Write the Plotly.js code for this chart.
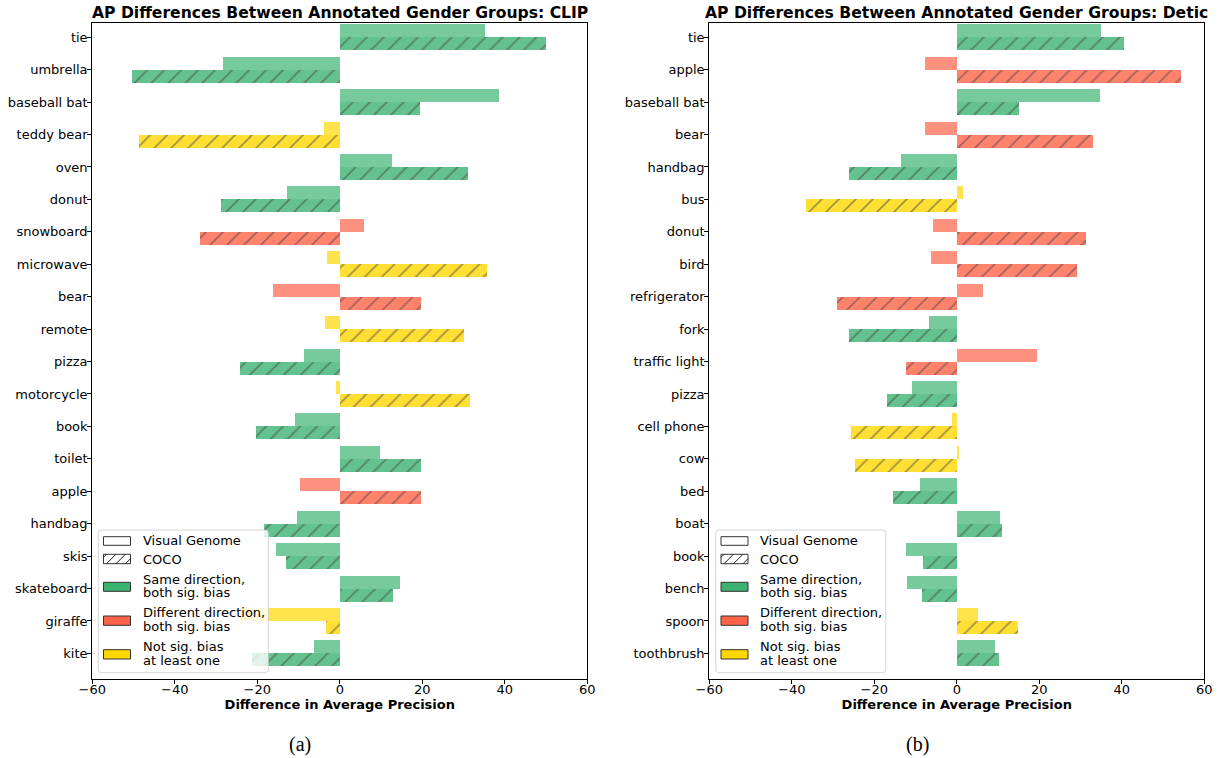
<!DOCTYPE html>
<html>
<head>
<meta charset="utf-8">
<script src="https://cdn.plot.ly/plotly-3.0.1.min.js"></script>
<style>html,body{margin:0;padding:0;background:#fff;}#chart{width:1222px;height:758px;}</style>
</head>
<body>
<div id="chart"></div>
<script>
// ---------------- data ----------------
const clipCategories = ['tie','umbrella','baseball bat','teddy bear','oven','donut','snowboard','microwave','bear','remote','pizza','motorcycle','book','toilet','apple','handbag','skis','skateboard','giraffe','kite'];
const clipVG   = [35.1, -28.3, 38.7, -3.9, 12.6, -12.8, 5.8, -3.1, -16.2, -3.6, -8.7, -1.0, -10.9, 9.7, -9.7, -10.4, -15.5, 14.5, -24.2, -6.3];
const clipCOCO = [50.1, -50.3, 19.4, -48.6, 31.0, -28.8, -33.9, 35.8, 19.6, 30.0, -24.2, 31.5, -20.3, 19.6, 19.6, -18.4, -13.1, 12.8, -3.4, -21.3];
const clipGroup = ['same','same','same','notsig','same','same','diff','notsig','diff','notsig','same','notsig','same','same','diff','same','same','same','notsig','same'];

const deticCategories = ['tie','apple','baseball bat','bear','handbag','bus','donut','bird','refrigerator','fork','traffic light','pizza','cell phone','cow','bed','boat','book','bench','spoon','toothbrush'];
const deticVG   = [35.0, -7.7, 34.8, -7.7, -13.5, 1.5, -5.8, -6.3, 6.3, -6.8, 19.4, -10.9, -1.2, 0.5, -9.0, 10.5, -12.3, -12.1, 5.1, 9.2];
const deticCOCO = [40.6, 54.4, 15.1, 33.1, -26.1, -36.6, 31.2, 29.2, -29.0, -26.1, -12.3, -16.9, -25.7, -24.7, -15.5, 11.0, -8.2, -8.5, 14.8, 10.2];
const deticGroup = ['same','diff','same','diff','same','notsig','diff','diff','diff','same','diff','same','notsig','notsig','same','same','same','same','notsig','same'];

const xTickValues = [-60, -40, -20, 0, 20, 40, 60];
const xTickLabels = ['\u221260', '\u221240', '\u221220', '0', '20', '40', '60'];

const panelTitles = ['AP Differences Between Annotated Gender Groups: CLIP', 'AP Differences Between Annotated Gender Groups: Detic'];
const xAxisTitle = 'Difference in Average Precision';
const captions = ['(a)', '(b)'];
const legendLabels = {
  vg: ['Visual Genome'],
  coco: ['COCO'],
  same: ['Same direction,', 'both sig. bias'],
  diff: ['Different direction,', 'both sig. bias'],
  notsig: ['Not sig. bias', 'at least one']
};

// ---------------- styles ----------------
const W = 1222, H = 758;
const groupRGB = { same: [60,179,113], diff: [255,99,71], notsig: [255,215,0] };
const rgba = (g, a) => 'rgba(' + groupRGB[g].join(',') + ',' + a + ')';
const px = x => x / W;
const py = y => 1 - y / H;
const FONT = 'DejaVu Sans, Verdana, sans-serif';

function barTraces(cats, vg, coco, grp, xa, ya) {
  const vgCol = grp.map(g => rgba(g, 0.7));
  const cocoCol = grp.map(g => rgba(g, 0.8));
  return [
    { type: 'bar', orientation: 'h', y: cats, x: vg, xaxis: xa, yaxis: ya,
      width: 0.4, offset: -0.4, marker: { color: vgCol, line: { width: 0 } },
      showlegend: false, hoverinfo: 'x+y', name: 'Visual Genome' },
    { type: 'bar', orientation: 'h', y: cats, x: coco, xaxis: xa, yaxis: ya,
      width: 0.4, offset: 0, marker: { color: cocoCol, line: { width: 0 },
        pattern: { shape: '/', fillmode: 'overlay', bgcolor: cocoCol, fgcolor: '#000', size: 12, solidity: 0.14 } },
      showlegend: false, hoverinfo: 'x+y', name: 'COCO' }
  ];
}

const data = [
  ...barTraces(clipCategories, clipVG, clipCOCO, clipGroup, 'x', 'y'),
  ...barTraces(deticCategories, deticVG, deticCOCO, deticGroup, 'x2', 'y2')
];

const yDomain = [py(679), py(23.3)];
const yRange = [19.79, -0.43];
const xDomains = [[px(92.3), px(587.3)], [px(709.3), px(1204.3)]];

function xAxis(dom, anchor) {
  return {
    domain: dom, anchor: anchor, range: [-60, 60], tickmode: 'array',
    tickvals: xTickValues, ticktext: xTickLabels,
    ticks: 'outside', ticklen: 4, tickwidth: 1, tickcolor: '#000',
    ticklabelstandoff: -6,
    showline: true, linecolor: '#000', linewidth: 1.1, mirror: true,
    showgrid: false, zeroline: false,
    tickfont: { family: FONT, size: 13, color: '#000' },
    title: { text: xAxisTitle, font: { family: FONT, size: 13, color: '#000', weight: 'bold' }, standoff: 0 },
    fixedrange: true
  };
}
function yAxis(anchor) {
  return {
    domain: yDomain, anchor: anchor, type: 'category', range: yRange,
    ticks: 'outside', ticklen: 4, tickwidth: 1, tickcolor: '#000',
    ticklabelstandoff: -3,
    showline: true, linecolor: '#000', linewidth: 1.1, mirror: true,
    showgrid: false, zeroline: false,
    tickfont: { family: FONT, size: 13, color: '#000' },
    fixedrange: true
  };
}

const shapes = [];
const annotations = [];

// titles and captions
panelTitles.forEach((t, i) => {
  annotations.push({ xref: 'paper', yref: 'paper', x: (xDomains[i][0] + xDomains[i][1]) / 2, y: py(13),
    xanchor: 'center', yanchor: 'middle', showarrow: false, text: t,
    font: { family: FONT, size: 15.6, color: '#000', weight: 'bold' } });
});
[300, 917].forEach((cx, i) => {
  annotations.push({ xref: 'paper', yref: 'paper', x: px(cx), y: py(744), xanchor: 'center', yanchor: 'middle',
    showarrow: false, text: captions[i], font: { family: 'Liberation Serif, Times New Roman, serif', size: 20, color: '#000' } });
});

// manual legends (matplotlib style)
function roundedBox(x0, y0, x1, y1, r) {
  const X = v => px(v).toFixed(5), Y = v => py(v).toFixed(5);
  return 'M' + X(x0 + r) + ',' + Y(y0) + ' L' + X(x1 - r) + ',' + Y(y0) +
    ' Q' + X(x1) + ',' + Y(y0) + ' ' + X(x1) + ',' + Y(y0 + r) +
    ' L' + X(x1) + ',' + Y(y1 - r) + ' Q' + X(x1) + ',' + Y(y1) + ' ' + X(x1 - r) + ',' + Y(y1) +
    ' L' + X(x0 + r) + ',' + Y(y1) + ' Q' + X(x0) + ',' + Y(y1) + ' ' + X(x0) + ',' + Y(y1 - r) +
    ' L' + X(x0) + ',' + Y(y0 + r) + ' Q' + X(x0) + ',' + Y(y0) + ' ' + X(x0 + r) + ',' + Y(y0) + ' Z';
}
function addLegend(dx) {
  shapes.push({ type: 'path', xref: 'paper', yref: 'paper', layer: 'above',
    path: roundedBox(98.3 + dx, 530, 268.3 + dx, 672.7, 3),
    fillcolor: 'rgba(255,255,255,0.8)', line: { color: 'rgba(204,204,204,0.8)', width: 1 } });
  const entries = [
    { key: 'vg', fill: '#ffffff', y0: 536.7, y1: 545.3, lines: [540.7] },
    { key: 'coco', fill: '#ffffff', y0: 554.3, y1: 563.7, lines: [559.3], hatch: true },
    { key: 'same', fill: rgba('same', 1), y0: 582.3, y1: 591.3, lines: [579, 592.7] },
    { key: 'diff', fill: rgba('diff', 1), y0: 616, y1: 625.3, lines: [612.3, 626] },
    { key: 'notsig', fill: rgba('notsig', 1), y0: 649.7, y1: 659, lines: [646, 660.3] }
  ];
  const x0 = 103.5 + dx, x1 = 130.5 + dx;
  entries.forEach(e => {
    shapes.push({ type: 'rect', xref: 'paper', yref: 'paper', layer: 'above',
      x0: px(x0), x1: px(x1), y0: py(e.y1), y1: py(e.y0),
      fillcolor: e.fill, line: { color: '#333', width: 1 } });
    if (e.hatch) {
      const h = e.y1 - e.y0;
      [[x0, e.y0 + 3, x0 + 3, e.y0], [x0 + 3, e.y1, x0 + 3 + h, e.y0], [x0 + 12.5, e.y1, x0 + 12.5 + h, e.y0], [x0 + 22, e.y1, x1, e.y1 - (x1 - x0 - 22)]].forEach(l => {
        shapes.push({ type: 'line', xref: 'paper', yref: 'paper', layer: 'above',
          x0: px(l[0]), y0: py(l[1]), x1: px(l[2]), y1: py(l[3]), line: { color: '#222', width: 1 } });
      });
    }
    legendLabels[e.key].forEach((txt, k) => {
      annotations.push({ xref: 'paper', yref: 'paper', x: px(140.7 + dx), y: py(e.lines[k]),
        xanchor: 'left', yanchor: 'middle', showarrow: false, text: txt,
        font: { family: FONT, size: 13, color: '#000' } });
    });
  });
}
addLegend(0);
addLegend(617.5);

const layout = {
  width: W, height: H,
  margin: { l: 0, r: 0, t: 0, b: 0 },
  paper_bgcolor: '#fff', plot_bgcolor: '#fff',
  barmode: 'overlay', bargap: 0,
  showlegend: false,
  xaxis: xAxis(xDomains[0], 'y'),
  yaxis: yAxis('x'),
  xaxis2: xAxis(xDomains[1], 'y2'),
  yaxis2: yAxis('x2'),
  shapes: shapes,
  annotations: annotations
};

Plotly.newPlot('chart', data, layout, { displayModeBar: false, staticPlot: true });
</script>
</body>
</html>
